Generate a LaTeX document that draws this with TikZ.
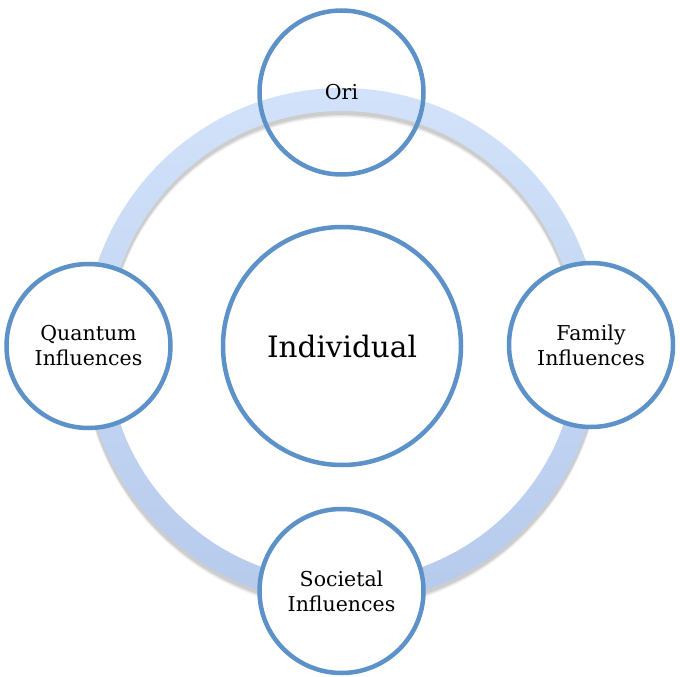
\documentclass[tikz,border=0pt]{standalone}
\usepackage{fontspec}
\setmainfont{DejaVu Serif}
\usetikzlibrary{calc}
\definecolor{ringtop}{RGB}{210,226,250}
\definecolor{ringbot}{RGB}{182,202,236}
\definecolor{edgeblue}{RGB}{92,146,200}
\tikzset{
  bubble/.style={circle, draw=edgeblue, line width=4.5pt, minimum size=164pt, inner sep=0pt, align=center, font=\fontsize{20.5}{25}\selectfont},
  bigbubble/.style={bubble, minimum size=238pt, font=\fontsize{29.5}{32}\selectfont, fill=white}
}
\begin{document}
\begin{tikzpicture}[x=1pt,y=-1pt]
\useasboundingbox (0,0) rectangle (680,677);
\coordinate (c) at (342,346);
% ring shadow
\foreach \o/\a in {5/0.05,4/0.07,3/0.09}{
  \fill[black, opacity=\a, even odd rule] ($(c)+(0,\o)$) circle (258+\o*0.3) ($(c)+(0,\o)$) circle (235-\o*0.3);
}
\shade[top color=ringtop, bottom color=ringbot, even odd rule] (c) circle (258) (c) circle (235);
\node[bubble] (ori) at (341.5,92.5) {Ori};
\node[bubble, fill=white] (quant) at (88.5,346) {Quantum\\Influences};
\node[bubble, fill=white] (fam) at (591,345) {Family\\Influences};
\node[bubble, fill=white] (soc) at (341.5,591) {Societal\\Influences};
\node[bigbubble] (ind) at (342,346) {Individual};
\end{tikzpicture}
\end{document}
